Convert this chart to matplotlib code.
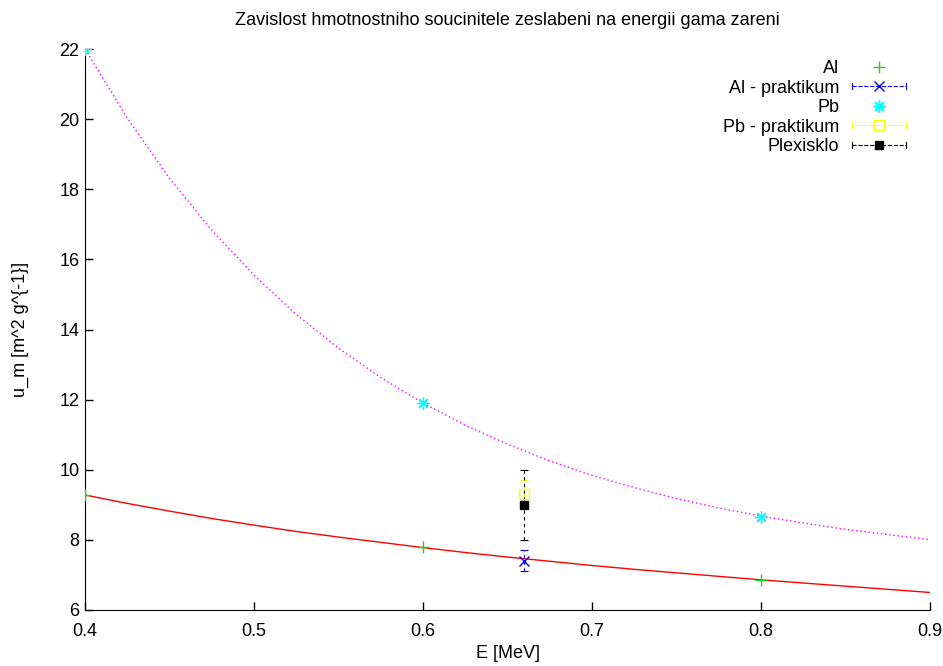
import matplotlib
matplotlib.use('Agg')
import matplotlib.pyplot as plt
from matplotlib.lines import Line2D
from matplotlib.legend_handler import HandlerBase

plt.rcParams['font.family'] = ['Liberation Sans', 'DejaVu Sans']
plt.rcParams['font.size'] = 13

# measured points
e_al = [0.4, 0.6, 0.8]
u_al = [9.28, 7.80, 6.85]
e_pb = [0.4, 0.6, 0.8]
u_pb = [22.0, 11.90, 8.66]

# lab ("praktikum") values at 662 keV with errors
e_lab = 0.66
u_al_lab, err_al_lab = 7.41, 0.30
u_pb_lab, err_pb_lab = 9.30, 0.40
u_plexi, err_plexi = 9.00, 1.00

# fit curves
e_fit = [0.4, 0.425, 0.45, 0.475, 0.5, 0.525, 0.55, 0.575, 0.6, 0.625, 0.65, 0.675,
         0.7, 0.725, 0.75, 0.775, 0.8, 0.825, 0.85, 0.875, 0.9]
u_al_fit = [9.28, 9.04, 8.82, 8.61, 8.42, 8.24, 8.08, 7.93, 7.78, 7.64, 7.51, 7.39,
            7.27, 7.16, 7.06, 6.96, 6.86, 6.77, 6.68, 6.59, 6.50]
u_pb_fit = [22.0, 20.03, 18.31, 16.83, 15.55, 14.43, 13.47, 12.63, 11.90, 11.27, 10.73, 10.25,
            9.84, 9.49, 9.18, 8.91, 8.68, 8.48, 8.30, 8.15, 8.01]


class ErrBarHandler(HandlerBase):
    # gnuplot style sample: dashed line with end ticks and point in the middle
    def create_artists(self, legend, orig_handle, xdescent, ydescent,
                       width, height, fontsize, trans):
        c = orig_handle.get_color()
        ls = orig_handle.get_linestyle()
        y = height / 2 - ydescent
        x0, x1 = -xdescent, width - xdescent
        h = height * 0.25
        arts = [Line2D([x0, x1], [y, y], color=c, ls=ls, lw=0.8),
                Line2D([x0, x0], [y - h, y + h], color=c, lw=0.8),
                Line2D([x1, x1], [y - h, y + h], color=c, lw=0.8),
                Line2D([(x0 + x1) / 2], [y], ls='none',
                       marker=orig_handle.get_marker(),
                       ms=orig_handle.get_markersize(),
                       mfc=orig_handle.get_markerfacecolor(),
                       mec=orig_handle.get_markeredgecolor(),
                       mew=orig_handle.get_markeredgewidth())]
        for a in arts:
            a.set_transform(trans)
        return arts


fig = plt.figure(figsize=(9.43, 6.66), dpi=100)
ax = fig.add_axes([85 / 943, 1 - 610 / 666, 845 / 943, 561 / 666])

ax.plot(e_fit, u_al_fit, color='#ff0000', lw=1.0, zorder=1)
ax.plot(e_fit, u_pb_fit, color='#ff00ff', lw=1.0, ls=(0, (1, 2)), zorder=1)

h_al, = ax.plot(e_al, u_al, ls='none', marker='+', ms=8, mew=1.0,
                color='#20d020', zorder=3, label='Al')

def errbar(y, err, color, ls, marker, ms, mfc):
    eb = ax.errorbar([e_lab], [y], yerr=[err], fmt='none', ecolor=color,
                     elinewidth=0.8, capsize=3, capthick=0.8, zorder=3)
    eb[2][0].set_linestyle(ls)
    ax.plot([e_lab], [y], ls='none', marker=marker, ms=ms, mfc=mfc,
            mec=color, mew=1.0, zorder=4)
    return Line2D([], [], color=color, ls=ls, marker=marker, ms=ms,
                  mfc=mfc, mec=color, mew=1.0)

h_al_lab = errbar(u_al_lab, err_al_lab, '#0000ff', (0, (3, 3)), 'x', 7, 'none')
h_pb, = ax.plot(e_pb, u_pb, ls='none', marker=(8, 2, 0), ms=9, mew=1.0,
                color='#00ffff', zorder=3, label='Pb')
h_pb_lab = errbar(u_pb_lab, err_pb_lab, '#ffff00', (0, (4, 2, 1, 2)), 's', 7, 'none')
h_plexi = errbar(u_plexi, err_plexi, '#000000', (0, (3, 3)), 's', 6, '#000000')

handles = [h_al, h_al_lab, h_pb, h_pb_lab, h_plexi]
labels = ['Al', 'Al - praktikum', 'Pb', 'Pb - praktikum', 'Plexisklo']
eh = ErrBarHandler()
ax.legend(handles, labels, loc='upper right', markerfirst=False, frameon=False,
          bbox_to_anchor=(906 / 943, 1 - 60 / 666), bbox_transform=fig.transFigure,
          borderpad=0, borderaxespad=0, handlelength=3.0, handletextpad=0.7,
          labelspacing=0.14, fontsize=13,
          handler_map={h_al_lab: eh, h_pb_lab: eh, h_plexi: eh})

ax.set_xlim(0.4, 0.9)
ax.set_ylim(6, 22)
ax.set_xticks([0.4, 0.5, 0.6, 0.7, 0.8, 0.9])
ax.set_yticks(range(6, 23, 2))
ax.tick_params(direction='in', length=6, width=1, labelsize=13)
ax.tick_params(axis='y', pad=4)
ax.tick_params(axis='x', pad=9)
ax.spines['top'].set_visible(False)
ax.spines['right'].set_visible(False)

ax.set_title('Zavislost hmotnostniho soucinitele zeslabeni na energii gama zareni',
             fontsize=13, pad=17)
ax.set_xlabel('E [MeV]', fontsize=13, labelpad=4)
ax.set_ylabel('u_m [m^2 g^{-1}]', fontsize=13, labelpad=22)

fig.savefig('out.png', dpi=100)
